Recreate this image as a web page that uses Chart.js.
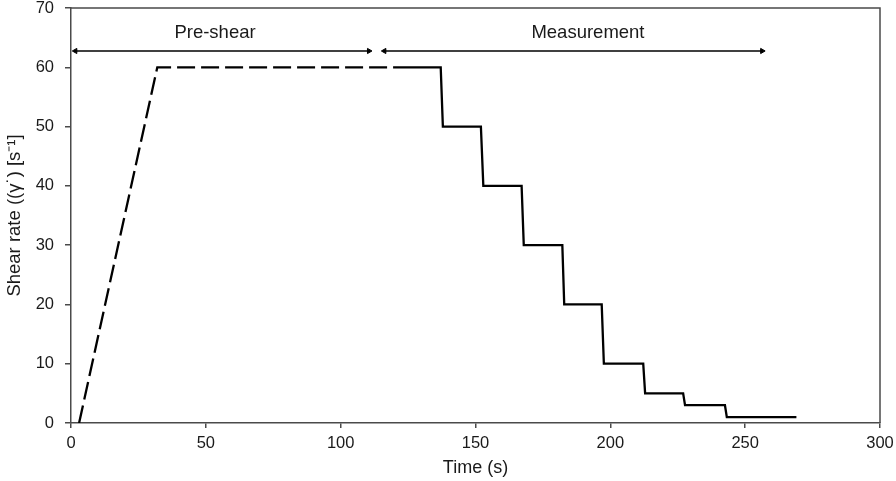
<!DOCTYPE html>
<html>
<head>
<meta charset="utf-8">
<script src="https://cdn.jsdelivr.net/npm/chart.js@4.4.1/dist/chart.umd.min.js"></script>
<style>
  html, body { margin: 0; padding: 0; background: #fff; }
  #wrap { width: 896px; height: 481px; position: relative; }
</style>
</head>
<body>
<div id="wrap"><canvas id="c" width="896" height="481"></canvas></div>
<script>
// ---- Data ----
const xTicks = [0, 50, 100, 150, 200, 250, 300];
const yTicks = [0, 10, 20, 30, 40, 50, 60, 70];

// Pre-shear ramp + hold (dashed)
const preShearTime = [3, 32, 122];
const preShearRate = [0, 60, 60];

// Measurement step-down (solid)
const measTime = [122, 137.1, 137.9, 152, 152.9, 167.1, 167.9, 182.2, 182.9, 196.8, 197.6, 212.2, 212.9, 227, 227.7, 242.5, 243.2, 269];
const measRate = [60, 60, 50, 50, 40, 40, 30, 30, 20, 20, 10, 10, 5, 5, 3, 3, 1, 1];

// Annotation arrows and labels
const arrowY = 62.75;
const preShearArrowX = [1.6, 110.5];
const measArrowX = [116.2, 256.3];
const labelTexts = ['Pre-shear', 'Measurement'];
const labelX = [53.4, 191.7];
const labelY = [65.8, 65.8];

function pts(xs, ys) { return xs.map((x, i) => ({ x: x, y: ys[i] })); }

const TEXT = '#1a1a1a';
const AXIS = '#4a4a4a';
const FONT = "'Liberation Sans', Arial, sans-serif";

const annotate = {
  id: 'annotate',
  afterDatasetsDraw(chart) {
    const ctx = chart.ctx, xs = chart.scales.x, ys = chart.scales.y, a = chart.chartArea;
    ctx.save();
    // frame (top and right borders)
    ctx.strokeStyle = AXIS;
    ctx.lineWidth = 1.5;
    ctx.beginPath();
    ctx.moveTo(a.left, a.top);
    ctx.lineTo(a.right, a.top);
    ctx.lineTo(a.right, a.bottom);
    ctx.stroke();
    // labels
    ctx.fillStyle = TEXT;
    ctx.font = '18.5px ' + FONT;
    ctx.textAlign = 'center';
    ctx.textBaseline = 'middle';
    labelTexts.forEach((t, i) => {
      ctx.fillText(t, xs.getPixelForValue(labelX[i]), ys.getPixelForValue(labelY[i]));
    });
    ctx.restore();
  }
};

new Chart(document.getElementById('c'), {
  type: 'line',
  data: {
    datasets: [
      {
        data: pts(preShearTime, preShearRate),
        borderColor: '#000', borderWidth: 2.3, borderDash: [18, 6],
        pointRadius: 0, fill: false, tension: 0
      },
      {
        data: pts(measTime, measRate),
        borderColor: '#000', borderWidth: 2.3,
        pointRadius: 0, fill: false, tension: 0
      },
      {
        data: pts(preShearArrowX, [arrowY, arrowY]),
        borderColor: '#000', borderWidth: 1.3,
        pointStyle: 'triangle', pointRadius: 3, pointRotation: [-90, 90],
        pointBackgroundColor: '#000', pointBorderColor: '#000', pointBorderWidth: 1,
        fill: false, tension: 0
      },
      {
        data: pts(measArrowX, [arrowY, arrowY]),
        borderColor: '#000', borderWidth: 1.3,
        pointStyle: 'triangle', pointRadius: 3, pointRotation: [-90, 90],
        pointBackgroundColor: '#000', pointBorderColor: '#000', pointBorderWidth: 1,
        fill: false, tension: 0
      }
    ]
  },
  options: {
    responsive: false,
    animation: false,
    events: [],
    layout: { padding: { top: 8, right: 16, left: 0, bottom: 0 } },
    plugins: { legend: { display: false }, tooltip: { enabled: false } },
    scales: {
      x: {
        type: 'linear', min: 0, max: 300,
        afterBuildTicks: (s) => { s.ticks = xTicks.map(v => ({ value: v })); },
        afterFit: (s) => { s.height = 58; s.paddingLeft = 0; s.paddingRight = 0; },
        grid: { display: true, drawOnChartArea: false, drawTicks: true, tickLength: 5, color: AXIS, lineWidth: 1.5 },
        border: { display: true, color: AXIS, width: 1.5 },
        ticks: { color: TEXT, font: { family: FONT, size: 16.5 }, padding: 6, maxRotation: 0 },
        title: { display: true, text: 'Time (s)', color: TEXT, font: { family: FONT, size: 18 }, padding: { top: 0, bottom: 2 } }
      },
      y: {
        type: 'linear', min: 0, max: 70,
        afterBuildTicks: (s) => { s.ticks = yTicks.map(v => ({ value: v })); },
        afterFit: (s) => { s.width = 71; s.paddingTop = 0; s.paddingBottom = 0; },
        grid: { display: true, drawOnChartArea: false, drawTicks: true, tickLength: 6, color: AXIS, lineWidth: 1.5 },
        border: { display: true, color: AXIS, width: 1.5 },
        ticks: { color: TEXT, font: { family: FONT, size: 16.5 }, padding: 11 },
        title: { display: true, text: 'Shear rate ((γ˙) [s⁻¹]', color: TEXT, font: { family: FONT, size: 18.5 }, padding: { top: 4, bottom: 0 } }
      }
    }
  },
  plugins: [annotate]
});
</script>
</body>
</html>
